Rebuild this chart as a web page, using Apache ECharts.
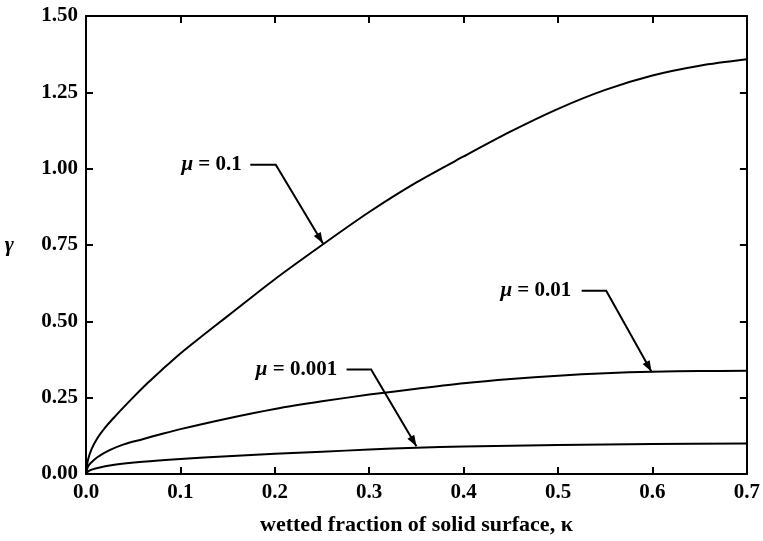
<!DOCTYPE html>
<html lang="en">
<head>
    <meta charset="UTF-8">
    <title>gamma vs kappa</title>
    <script src="https://cdn.jsdelivr.net/npm/echarts@6/dist/echarts.min.js"></script>
    <style>
        html, body { margin: 0; padding: 0; background: #fff; }
        #main { width: 763px; height: 541px; }
    </style>
</head>
<body>
    <div id="main"></div>
    <script>
        // values: [kappa, gamma]
        var mu01 = [[0, 0], [0.002, 0.045], [0.006, 0.082], [0.012, 0.117], [0.02, 0.151], [0.03, 0.186],
            [0.04, 0.219], [0.05, 0.251], [0.065, 0.297], [0.08, 0.34], [0.1, 0.395], [0.125, 0.457],
            [0.15, 0.517], [0.2, 0.638], [0.25, 0.75], [0.3, 0.858], [0.35, 0.955], [0.4, 1.04],
            [0.45, 1.122], [0.5, 1.196], [0.55, 1.258], [0.6, 1.305], [0.65, 1.337], [0.7, 1.358]];
        var mu001 = [[0, 0], [0.002, 0.024], [0.005, 0.036], [0.012, 0.055], [0.025, 0.078], [0.04, 0.097],
            [0.06, 0.114], [0.08, 0.131], [0.1, 0.147], [0.15, 0.182], [0.2, 0.213], [0.25, 0.238],
            [0.3, 0.26], [0.35, 0.279], [0.4, 0.297], [0.45, 0.311], [0.5, 0.322], [0.55, 0.33],
            [0.6, 0.335], [0.65, 0.337], [0.7, 0.338]];
        var mu0001 = [[0, 0], [0.003, 0.01], [0.01, 0.018], [0.03, 0.03], [0.06, 0.04], [0.1, 0.049],
            [0.15, 0.058], [0.2, 0.066], [0.25, 0.073], [0.3, 0.08], [0.35, 0.086], [0.4, 0.09],
            [0.5, 0.095], [0.6, 0.098], [0.7, 0.1]];
        var seriesNames = ['0.1', '0.01', '0.001'];
        // annotation leaders: [text end, line start, elbow, arrow tip] in data coords
        var notes = [
            { text: '0.1', textEnd: [0.165, 1.013], start: [0.174, 1.013], elbow: [0.201, 1.013], tip: [0.251, 0.755] },
            { text: '0.01', textEnd: [0.514, 0.600], start: [0.525, 0.600], elbow: [0.551, 0.600], tip: [0.599, 0.335] },
            { text: '0.001', textEnd: [0.266, 0.342], start: [0.276, 0.342], elbow: [0.302, 0.342], tip: [0.350, 0.091] }
        ];
        var xMin = 0, xMax = 0.7, xStep = 0.1;
        var yMin = 0, yMax = 1.5, yStep = 0.25;

        var font = 'Liberation Serif';
        var chart = echarts.init(document.getElementById('main'));

        function boxAxis(pos, isX, showLabel) {
            return {
                type: 'value',
                position: pos,
                min: isX ? xMin : yMin,
                max: isX ? xMax : yMax,
                interval: isX ? xStep : yStep,
                axisLine: { show: true, onZero: false, lineStyle: { color: '#000', width: 2 } },
                axisTick: { show: true, inside: true, length: 7, lineStyle: { color: '#000', width: 2 } },
                splitLine: { show: false },
                axisLabel: {
                    show: showLabel,
                    color: '#000',
                    fontFamily: font,
                    fontWeight: 'bold',
                    fontSize: 21,
                    margin: 8,
                    formatter: function (v) { return v.toFixed(isX ? 1 : 2); }
                }
            };
        }

        var xBottom = boxAxis('bottom', true, true);
        xBottom.name = 'wetted fraction of solid surface, κ';
        xBottom.nameLocation = 'middle';
        xBottom.nameGap = 40;
        xBottom.nameTextStyle = { color: '#000', fontFamily: font, fontWeight: 'bold', fontSize: 22 };
        var yLeft = boxAxis('left', false, true);
        yLeft.name = 'γ';
        yLeft.nameLocation = 'middle';
        yLeft.nameRotate = 0;
        yLeft.nameGap = 72;
        yLeft.nameTextStyle = { color: '#000', fontFamily: font, fontStyle: 'italic', fontWeight: 'bold', fontSize: 22 };

        function curve(name, data) {
            return {
                name: name,
                type: 'line',
                data: data,
                smooth: 0.3,
                symbol: 'none',
                lineStyle: { color: '#000', width: 2 },
                silent: true
            };
        }

        chart.setOption({
            animation: false,
            backgroundColor: '#fff',
            grid: { left: 86, right: 13, top: 16, bottom: 60 },
            xAxis: [xBottom, boxAxis('top', true, false)],
            yAxis: [yLeft, boxAxis('right', false, false)],
            series: [curve(seriesNames[0], mu01), curve(seriesNames[1], mu001), curve(seriesNames[2], mu0001)]
        });

        // labels and arrows placed through the chart's own scales
        var px = function (p) { return chart.convertToPixel({ xAxisIndex: 0, yAxisIndex: 0 }, p); };
        var elements = [];
        notes.forEach(function (n) {
            var e = px(n.textEnd), s = px(n.start), k = px(n.elbow), t = px(n.tip);
            elements.push({
                type: 'text', x: e[0], y: e[1],
                style: {
                    text: '{m|μ} = ' + n.text,
                    align: 'right', verticalAlign: 'middle',
                    fill: '#000', font: 'bold 21px "' + font + '"',
                    rich: { m: { fontFamily: font, fontStyle: 'italic', fontWeight: 'bold', fontSize: 21 } }
                }
            });
            elements.push({
                type: 'polyline',
                shape: { points: [s, k, t] },
                style: { stroke: '#000', lineWidth: 2, fill: null }
            });
            var ang = Math.atan2(t[1] - k[1], t[0] - k[0]);
            var L = 11, W = 4;
            var bx = t[0] - L * Math.cos(ang), by = t[1] - L * Math.sin(ang);
            elements.push({
                type: 'polygon',
                shape: { points: [t, [bx + W * Math.sin(ang), by - W * Math.cos(ang)], [bx - W * Math.sin(ang), by + W * Math.cos(ang)]] },
                style: { fill: '#000' }
            });
        });
        chart.setOption({ graphic: elements });
    </script>
</body>
</html>
